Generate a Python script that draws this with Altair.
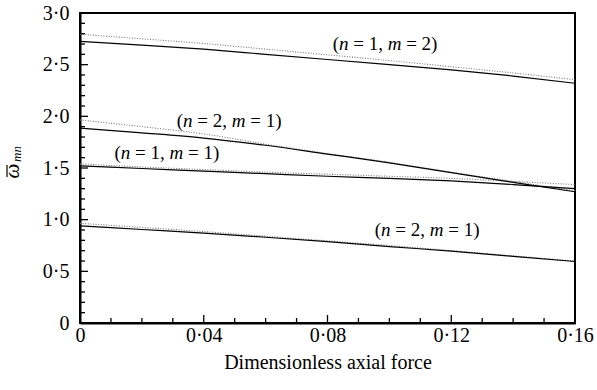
import altair as alt
import pandas as pd

FONT = "'Liberation Serif', 'Times New Roman', Times, serif"

# ---- data ----
xs = [0, 0.02, 0.04, 0.06, 0.08, 0.10, 0.12, 0.14, 0.16]
solid_12 = [2.725, 2.69, 2.65, 2.60, 2.55, 2.50, 2.45, 2.39, 2.32]
dotted_12 = [2.795, 2.75, 2.705, 2.65, 2.595, 2.54, 2.48, 2.42, 2.355]
solid_21u = [1.885, 1.84, 1.79, 1.72, 1.635, 1.55, 1.455, 1.36, 1.27]
dotted_21u = [1.965, 1.90, 1.83, 1.73, 1.64, 1.555, 1.46, 1.37, 1.28]
solid_11 = [1.52, 1.495, 1.47, 1.445, 1.42, 1.40, 1.375, 1.34, 1.30]
dotted_11 = [1.54, 1.51, 1.485, 1.46, 1.44, 1.42, 1.40, 1.37, 1.34]
solid_21l = [0.94, 0.905, 0.87, 0.83, 0.787, 0.74, 0.695, 0.645, 0.595]
dotted_21l = [0.965, 0.925, 0.885, 0.84, 0.795, 0.75, 0.70, 0.65, 0.60]

x_major = [0, 0.04, 0.08, 0.12, 0.16]
x_minor = [0.01, 0.02, 0.03, 0.05, 0.06, 0.07, 0.09, 0.10, 0.11, 0.13, 0.14, 0.15]
y_major = [0, 0.5, 1.0, 1.5, 2.0, 2.5, 3.0]
y_minor = [0.1, 0.2, 0.3, 0.4, 0.6, 0.7, 0.8, 0.9, 1.1, 1.2, 1.3, 1.4,
           1.6, 1.7, 1.8, 1.9, 2.1, 2.2, 2.3, 2.4, 2.6, 2.7, 2.8, 2.9]

ann_x = [0.0986, 0.0482, 0.0281, 0.1122]
ann_y = [2.70, 1.958, 1.648, 0.90]
ann_n = ["1", "2", "1", "2"]
ann_m = ["2", "1", "1", "1"]

W, H = 495, 310

rows = []
for name, kind, vals in [
    ("12", "solid", solid_12), ("12", "dotted", dotted_12),
    ("21u", "solid", solid_21u), ("21u", "dotted", dotted_21u),
    ("11", "solid", solid_11), ("11", "dotted", dotted_11),
    ("21l", "solid", solid_21l), ("21l", "dotted", dotted_21l),
]:
    for x, y in zip(xs, vals):
        rows.append({"curve": name + kind, "kind": kind, "x": x, "y": y})
df = pd.DataFrame(rows)

xscale = alt.Scale(domain=[0, 0.16], nice=False)
yscale = alt.Scale(domain=[0, 3], nice=False)

xlabel = "datum.value == 0 ? '0' : replace(format(datum.value, '.2f'), '.', '·')"
ylabel = "datum.value == 0 ? '0' : replace(format(datum.value, '.1f'), '.', '·')"

base = alt.Chart(df).encode(
    x=alt.X("x:Q", scale=xscale, axis=alt.Axis(
        values=x_major, labelExpr=xlabel, title="Dimensionless axial force",
        ticks=False, grid=False, labelPadding=2, titlePadding=7,
        labelFont=FONT, labelFontSize=20, titleFont=FONT, titleFontSize=20,
        titleFontWeight="normal", labelColor="black", titleColor="black",
        domainColor="black", domainWidth=2, labelFlush=False)),
    y=alt.Y("y:Q", scale=yscale, axis=alt.Axis(
        values=y_major, labelExpr=ylabel, title=None,
        ticks=False, grid=False, labelPadding=11,
        labelFont=FONT, labelFontSize=20, labelColor="black",
        domainColor="black", domainWidth=2, labelFlush=False)),
    detail="curve:N",
)

solid = base.transform_filter("datum.kind == 'solid'").mark_line(
    color="black", strokeWidth=1.2, interpolate="monotone")
dotted = base.transform_filter("datum.kind == 'dotted'").mark_line(
    color="#777777", strokeWidth=1.1, strokeDash=[1, 1.6], interpolate="monotone")

# inward ticks
ymaj = alt.Chart(pd.DataFrame({"v": y_major})).mark_rule(color="black", strokeWidth=1.3).encode(
    y=alt.Y("v:Q", scale=yscale), x=alt.value(0), x2=alt.value(8))
ymin = alt.Chart(pd.DataFrame({"v": y_minor})).mark_rule(color="black", strokeWidth=1.3).encode(
    y=alt.Y("v:Q", scale=yscale), x=alt.value(0), x2=alt.value(5))
xmaj = alt.Chart(pd.DataFrame({"v": x_major})).mark_rule(color="black", strokeWidth=1.3).encode(
    x=alt.X("v:Q", scale=xscale), y=alt.value(H), y2=alt.value(H - 8))
xmin = alt.Chart(pd.DataFrame({"v": x_minor})).mark_rule(color="black", strokeWidth=1.3).encode(
    x=alt.X("v:Q", scale=xscale), y=alt.value(H), y2=alt.value(H - 5))

# annotations "(n = a, m = b)" with italic n and m
ann = pd.DataFrame({"x": ann_x, "y": ann_y,
                    "d1": [n + "," for n in ann_n],
                    "d2": [m + ")" for m in ann_m]})
FS = 19
total = 5.516
segs = [("(", None, "normal", 0.0), ("n", None, "italic", 0.333),
        ("=", None, "normal", 1.083), (None, "d1", "normal", 1.897),
        ("m", None, "italic", 2.897), ("=", None, "normal", 3.869),
        (None, "d2", "normal", 4.683)]
ann_layers = []
for txt, col, style, off in segs:
    m = alt.Chart(ann).mark_text(
        align="left", baseline="middle", font=FONT, fontSize=FS,
        fontStyle=style, color="black", dx=(off - total / 2) * FS)
    enc = dict(x=alt.X("x:Q", scale=xscale), y=alt.Y("y:Q", scale=yscale))
    if col is None:
        enc["text"] = alt.value(txt)
    else:
        enc["text"] = alt.Text(col + ":N")
    ann_layers.append(m.encode(**enc))

# y-axis title: omega with a bar over it and subscript mn (rotated)
ytitle = alt.Chart(pd.DataFrame({"t": ["ω"]})).mark_text(
    font=FONT, fontSize=21, fontStyle="italic", angle=270, color="black",
    align="center", baseline="middle").encode(
    text="t:N", x=alt.value(-67), y=alt.value(158))
ybar = alt.Chart(pd.DataFrame({"t": [0]})).mark_rule(color="black", strokeWidth=1.2).encode(
    x=alt.value(-73), y=alt.value(152), y2=alt.value(164))
ysub = alt.Chart(pd.DataFrame({"t": ["mn"]})).mark_text(
    font=FONT, fontSize=13, fontStyle="italic", angle=270, color="black",
    align="center", baseline="middle").encode(
    text="t:N", x=alt.value(-63), y=alt.value(141))

chart = alt.layer(dotted, solid, ymaj, ymin, xmaj, xmin, *ann_layers, ytitle, ybar, ysub).properties(
    width=W, height=H,
    autosize=alt.AutoSizeParams(type="none"),
    padding={"left": 80, "top": 13, "right": 22, "bottom": 67},
).configure_view(stroke="black", strokeWidth=2)

chart.save("out.html", embed_options={"renderer": "svg", "actions": False})
